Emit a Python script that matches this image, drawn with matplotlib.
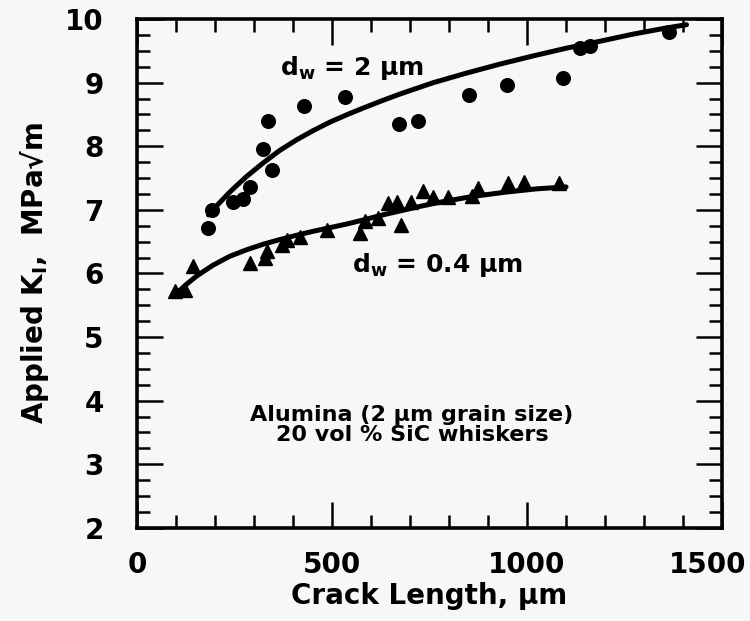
import matplotlib
matplotlib.use("Agg")
import matplotlib.pyplot as plt
from matplotlib.ticker import MultipleLocator
from matplotlib.transforms import ScaledTranslation

plt.rcParams['font.family'] = ['DejaVu Sans']
plt.rcParams['font.weight'] = 'bold'
plt.rcParams['mathtext.fontset'] = 'dejavusans'

# d_w = 2 um data (circles)
x_2um = [181, 191, 247, 273, 290, 322, 335, 345, 429, 532, 673, 721,
         852, 948, 1091, 1136, 1162, 1365]
y_2um = [6.71, 7.00, 7.13, 7.17, 7.36, 7.95, 8.40, 7.63, 8.64, 8.78, 8.35, 8.39,
         8.81, 8.97, 9.07, 9.55, 9.57, 9.79]
# fitted curve for 2 um
cx_2um = [183, 210, 238, 280, 324, 365, 409, 450, 495, 540, 580, 630, 674, 760,
          845, 930, 1016, 1100, 1187, 1270, 1358, 1409]
cy_2um = [6.92, 7.10, 7.28, 7.52, 7.74, 7.93, 8.10, 8.24, 8.38, 8.50, 8.60, 8.72,
          8.82, 9.00, 9.15, 9.29, 9.42, 9.54, 9.65, 9.76, 9.86, 9.91]

# d_w = 0.4 um data (triangles)
x_04um = [97, 123, 144, 290, 328, 332, 371, 385, 418, 486, 573, 585, 619, 643,
          666, 677, 703, 732, 758, 797, 860, 875, 952, 992, 1083]
y_04um = [5.72, 5.74, 6.11, 6.16, 6.24, 6.35, 6.45, 6.53, 6.58, 6.69, 6.63, 6.82,
          6.87, 7.10, 7.13, 6.76, 7.13, 7.29, 7.20, 7.20, 7.22, 7.34, 7.42, 7.43, 7.42]
cx_04um = [97, 125, 153, 195, 238, 280, 324, 365, 409, 450, 495, 540, 580, 630,
           680, 730, 777, 860, 948, 1025, 1100]
cy_04um = [5.66, 5.82, 5.96, 6.13, 6.27, 6.37, 6.46, 6.53, 6.60, 6.66, 6.72, 6.78,
           6.84, 6.92, 6.99, 7.06, 7.12, 7.21, 7.28, 7.33, 7.36]

x_ticklabels = ['0', '500', '1000', '1500']

bg = '#f7f7f7'
fig = plt.figure(figsize=(7.5, 6.21), dpi=100, facecolor=bg)
ax = fig.add_axes([0.1827, 0.150, 0.78, 0.8194], facecolor=bg)

ax.plot(cx_2um, cy_2um, '-', color='black', lw=3.6, solid_capstyle='round')
ax.plot(cx_04um, cy_04um, '-', color='black', lw=3.6, solid_capstyle='round')
ax.plot(x_2um, y_2um, 'o', color='black', ms=9.8, ls='none')
ax.plot(x_04um, y_04um, '^', color='black', ms=10, ls='none')

ax.set_xlim(0, 1500)
ax.set_ylim(2, 10)
ax.set_xticks([0, 500, 1000, 1500])
ax.set_xticklabels(x_ticklabels)
ax.xaxis.set_minor_locator(MultipleLocator(100))
ax.yaxis.set_major_locator(MultipleLocator(1))
ax.yaxis.set_minor_locator(MultipleLocator(0.25))

for s in ax.spines.values():
    s.set_linewidth(2.6)
ax.tick_params(which='both', direction='in', top=True, right=True, width=1.8)
ax.tick_params(which='major', length=19)
ax.tick_params(which='minor', length=9.5)
ax.tick_params(axis='y', which='major', pad=24, labelsize=20)
ax.tick_params(axis='x', which='major', pad=17, labelsize=20)
for lab in ax.get_xticklabels() + ax.get_yticklabels():
    lab.set_fontweight('bold')
# last x label shifted left to stay inside the figure
last = ax.get_xticklabels()[-1]
last.set_transform(last.get_transform() + ScaledTranslation(-14 / 100, 0, fig.dpi_scale_trans))

ax.set_xlabel('Crack Length, μm', fontsize=20, fontweight='bold', labelpad=2)
ax.set_ylabel(r'Applied $\mathbf{K}_{\mathbf{I}}$,  MPa√m', fontsize=20,
              fontweight='bold', labelpad=10)

ax.text(367, 9.23, r'$\mathbf{d}_{\mathbf{w}}$ = 2 μm', fontsize=18,
        fontweight='bold', ha='left', va='center')
ax.text(551, 6.13, r'$\mathbf{d}_{\mathbf{w}}$ = 0.4 μm', fontsize=18,
        fontweight='bold', ha='left', va='center')
ax.text(705, 3.62, 'Alumina (2 μm grain size)\n20 vol % SiC whiskers',
        fontsize=16, fontweight='bold', ha='center', va='center',
        linespacing=1.0)

fig.savefig('out.png', dpi=100, facecolor=bg)
